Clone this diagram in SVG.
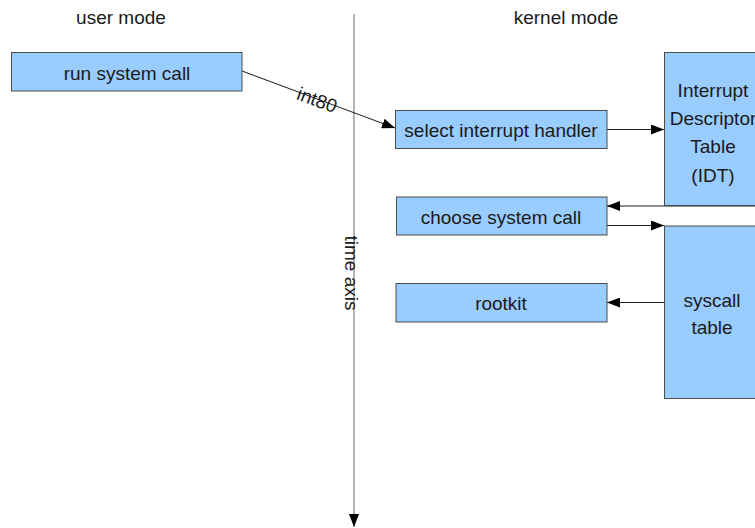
<svg xmlns="http://www.w3.org/2000/svg" width="755" height="528" viewBox="0 0 755 528">
<style>
.box{fill:#99ccff;stroke:#4d4d4d;stroke-width:1}
.t{font-family:"Liberation Sans",Arial,sans-serif;font-size:19px;fill:#1a1a1a;text-anchor:middle}
.c{stroke:#1a1a1a;stroke-width:1;fill:none}
</style>
<defs>
<marker id="ah" markerUnits="userSpaceOnUse" markerWidth="14" markerHeight="10" refX="13" refY="5" orient="auto">
<path d="M0,0 L13,5 L0,10 Z" fill="#000"/>
</marker>
</defs>
<text class="t" x="121" y="24">user mode</text>
<text class="t" x="566" y="24">kernel mode</text>
<g id="connectors">
<line x1="354" y1="14" x2="354" y2="527" stroke="#808080" stroke-width="1.2" marker-end="url(#ah)"/>
<line class="c" x1="242" y1="71" x2="395" y2="128" marker-end="url(#ah)"/>
<text class="t" transform="translate(317,100) rotate(20.4)" y="6.5">int80</text>
<line class="c" x1="607" y1="129.5" x2="664" y2="129.5" marker-end="url(#ah)"/>
<line class="c" x1="755" y1="206" x2="607" y2="206" marker-end="url(#ah)"/>
<line class="c" x1="607" y1="225.5" x2="664" y2="225.5" marker-end="url(#ah)"/>
<line class="c" x1="664" y1="302.5" x2="607" y2="302.5" marker-end="url(#ah)"/>
</g>
<text class="t" transform="translate(351,273) rotate(90)" y="6.5">time axis</text>
<g id="run">
<rect class="box" x="11.5" y="52.5" width="230.5" height="38.5"/>
<text class="t" x="127" y="79.5">run system call</text>
</g>
<g id="select">
<rect class="box" x="395.5" y="110.5" width="211.5" height="38"/>
<text class="t" x="501" y="137">select interrupt handler</text>
</g>
<g id="choose">
<rect class="box" x="396.5" y="197" width="210.5" height="38"/>
<text class="t" x="501" y="224">choose system call</text>
</g>
<g id="rootkit">
<rect class="box" x="396" y="283.5" width="211" height="38.5"/>
<text class="t" x="501" y="310">rootkit</text>
</g>
<g id="idt">
<rect class="box" x="664.5" y="52.5" width="100" height="153"/>
<text class="t" x="713" y="97">Interrupt</text>
<text class="t" x="713" y="125">Descriptor</text>
<text class="t" x="713" y="153">Table</text>
<text class="t" x="713" y="182">(IDT)</text>
</g>
<g id="syscall">
<rect class="box" x="664.5" y="226" width="100" height="172.5"/>
<text class="t" x="712" y="307">syscall</text>
<text class="t" x="712" y="334">table</text>
</g>
</svg>
